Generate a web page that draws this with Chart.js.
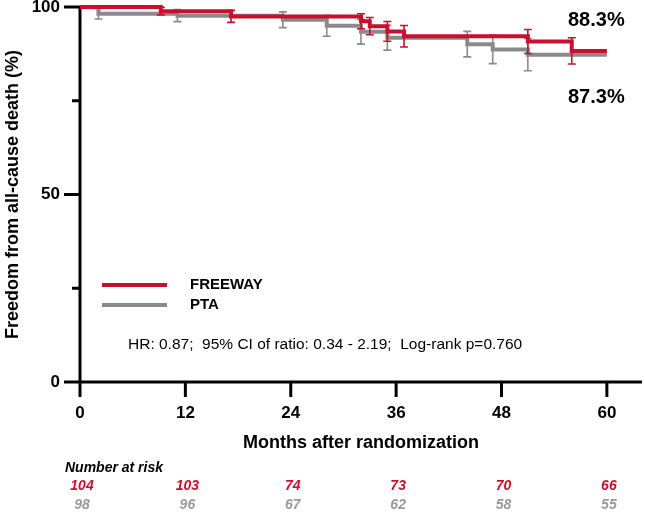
<!DOCTYPE html>
<html>
<head>
<meta charset="utf-8">
<script src="https://cdn.jsdelivr.net/npm/chart.js@4.4.1/dist/chart.umd.min.js"></script>
<style>
  html, body { margin: 0; padding: 0; background: #ffffff; }
  #wrap { width: 645px; height: 521px; }
</style>
</head>
<body>
<div id="wrap"><canvas id="c" width="645" height="521"></canvas></div>
<script>
// ---------------- data ----------------
const seriesNames = ['FREEWAY', 'PTA'];

const freewayMonths = [0, 9.2, 17.2, 32.0, 33.0, 35.0, 36.9, 51.0, 56.0, 60];
const freewaySurvival = [100, 98.9, 97.5, 96.2, 94.9, 93.5, 92.2, 90.8, 88.3, 88.3];
const freewayError = [null, 1.0, 1.6, 2.0, 2.3, 2.65, 2.85, 3.2, 3.5, null];

const ptaMonths = [0, 2.1, 11.1, 23.1, 28.1, 32.0, 35.0, 44.1, 47.0, 51.0, 60];
const ptaSurvival = [100, 98.2, 97.7, 96.6, 95.0, 93.4, 91.8, 90.1, 88.7, 87.3, 87.3];
const ptaError = [null, 1.4, 1.6, 2.1, 2.8, 3.3, 3.3, 3.4, 3.8, 4.3, null];

const xTicks = [0, 12, 24, 36, 48, 60];
const yMajorTicks = [0, 50, 100];
const yMinorTicks = [25, 75];

const riskMonths = [0, 12, 24, 36, 48, 60];
const freewayAtRisk = [104, 103, 74, 73, 70, 66];
const ptaAtRisk = [98, 96, 67, 62, 58, 55];

const statsText = 'HR: 0.87;  95% CI of ratio: 0.34 - 2.19;  Log-rank p=0.760';

// ---------------- styling ----------------
const RED = '#C8102E';
const GRAY = '#8A8A8A';
const GRAY_TEXT = '#9A9A9A';
const FONT = "'Liberation Sans', Arial, Helvetica, sans-serif";
Chart.defaults.font.family = FONT;
Chart.defaults.color = '#000';

function toPoints(xs, ys) { return xs.map((x, i) => ({ x: x, y: ys[i] })); }

const errorSets = [freewayError, ptaError];
const colors = [RED, GRAY];

const decorPlugin = {
  id: 'decor',
  afterDatasetDraw(chart, args) {
    const ctx = chart.ctx;
    const xs = chart.scales.x, ys = chart.scales.y;
    const ds = chart.data.datasets[args.index];
    const errs = errorSets[args.index];
    ctx.save();
    ctx.strokeStyle = colors[args.index];
    ctx.lineWidth = 1.6;
    ds.data.forEach((p, i) => {
      const e = errs[i];
      if (e == null) return;
      const px = xs.getPixelForValue(p.x);
      const top = ys.getPixelForValue(Math.min(100, p.y + e));
      const bot = ys.getPixelForValue(p.y - e);
      ctx.beginPath();
      ctx.moveTo(px, top); ctx.lineTo(px, bot);
      ctx.moveTo(px - 4, top); ctx.lineTo(px + 4, top);
      ctx.moveTo(px - 4, bot); ctx.lineTo(px + 4, bot);
      ctx.stroke();
    });
    ctx.restore();
  },
  beforeDatasetsDraw(chart) {
    const ctx = chart.ctx;
    const xs = chart.scales.x, ys = chart.scales.y;
    const x0 = xs.getPixelForValue(0);
    const y0 = ys.getPixelForValue(0);
    const yTop = ys.getPixelForValue(100);
    const xEnd = xs.getPixelForValue(xs.max);
    ctx.save();
    ctx.strokeStyle = '#000';
    ctx.lineWidth = 3;
    ctx.lineCap = 'butt';
    ctx.beginPath();
    ctx.moveTo(x0, yTop - 1.5); ctx.lineTo(x0, y0 + 1.5);
    ctx.moveTo(x0 - 1.5, y0); ctx.lineTo(xEnd, y0);
    yMajorTicks.forEach(v => { const py = ys.getPixelForValue(v); ctx.moveTo(x0 - 16, py); ctx.lineTo(x0, py); });
    yMinorTicks.forEach(v => { const py = ys.getPixelForValue(v); ctx.moveTo(x0 - 8, py); ctx.lineTo(x0, py); });
    xTicks.forEach(v => { const px = xs.getPixelForValue(v); ctx.moveTo(px, y0); ctx.lineTo(px, y0 + 15); });
    ctx.stroke();
    ctx.restore();
  },
  afterDraw(chart) {
    const ctx = chart.ctx;
    const xs = chart.scales.x;
    ctx.save();
    ctx.textBaseline = 'middle';
    ctx.textAlign = 'left';
    ctx.fillStyle = '#000';
    ctx.font = 'bold 20px ' + FONT;
    ctx.fillText(freewaySurvival[freewaySurvival.length - 1].toFixed(1) + '%', 568, 20);
    ctx.fillText(ptaSurvival[ptaSurvival.length - 1].toFixed(1) + '%', 568, 97);

    const legendY = [285, 305];
    seriesNames.forEach((name, i) => {
      ctx.strokeStyle = colors[i];
      ctx.lineWidth = 4;
      ctx.beginPath();
      ctx.moveTo(102, legendY[i]); ctx.lineTo(167, legendY[i]);
      ctx.stroke();
      ctx.fillStyle = '#000';
      ctx.font = 'bold 15px ' + FONT;
      ctx.fillText(name, 190, legendY[i]);
    });

    ctx.font = '15.5px ' + FONT;
    ctx.fillStyle = '#000';
    ctx.fillText(statsText, 128, 345);

    ctx.font = 'italic bold 14px ' + FONT;
    ctx.fillText('Number at risk', 65, 468);
    ctx.textAlign = 'center';
    riskMonths.forEach((m, i) => {
      const px = xs.getPixelForValue(m) + 2;
      ctx.fillStyle = RED;
      ctx.fillText(String(freewayAtRisk[i]), px, 486);
      ctx.fillStyle = GRAY_TEXT;
      ctx.fillText(String(ptaAtRisk[i]), px, 505);
    });
    ctx.restore();
  }
};

new Chart(document.getElementById('c'), {
  type: 'line',
  data: {
    datasets: [
      { label: seriesNames[0], data: toPoints(freewayMonths, freewaySurvival), borderColor: RED,
        borderWidth: 4, stepped: true, pointRadius: 0, fill: false, clip: false },
      { label: seriesNames[1], data: toPoints(ptaMonths, ptaSurvival), borderColor: GRAY,
        borderWidth: 4, stepped: true, pointRadius: 0, fill: false, clip: false }
    ]
  },
  options: {
    responsive: false,
    devicePixelRatio: 1,
    animation: false,
    events: [],
    layout: { autoPadding: false, padding: { left: 0, right: 3, top: 7, bottom: 0 } },
    plugins: { legend: { display: false }, tooltip: { enabled: false } },
    scales: {
      x: {
        type: 'linear', min: 0, max: 64,
        grid: { display: false, drawTicks: false },
        border: { display: false },
        afterBuildTicks(scale) { scale.ticks = xTicks.map(v => ({ value: v })); },
        afterFit(scale) { scale.height = 139; scale.paddingLeft = 0; scale.paddingRight = 0; },
        ticks: { padding: 21, maxRotation: 0, autoSkip: false, color: '#000',
                 font: { size: 17, weight: 'bold' } },
        title: { display: true, text: 'Months after randomization', color: '#000',
                 font: { size: 18, weight: 'bold' }, padding: { top: 0, bottom: 67 } }
      },
      y: {
        type: 'linear', min: 0, max: 100,
        grid: { display: false, drawTicks: false },
        border: { display: false },
        afterBuildTicks(scale) { scale.ticks = yMajorTicks.map(v => ({ value: v })); },
        afterFit(scale) { scale.width = 80; scale.paddingTop = 0; scale.paddingBottom = 0; },
        ticks: { padding: 20, color: '#000', font: { size: 17, weight: 'bold' } },
        title: { display: true, text: 'Freedom from all-cause death (%)', color: '#000',
                 font: { size: 18, weight: 'bold' }, padding: { top: 2, bottom: 0 } }
      }
    }
  },
  plugins: [decorPlugin]
});
</script>
</body>
</html>
